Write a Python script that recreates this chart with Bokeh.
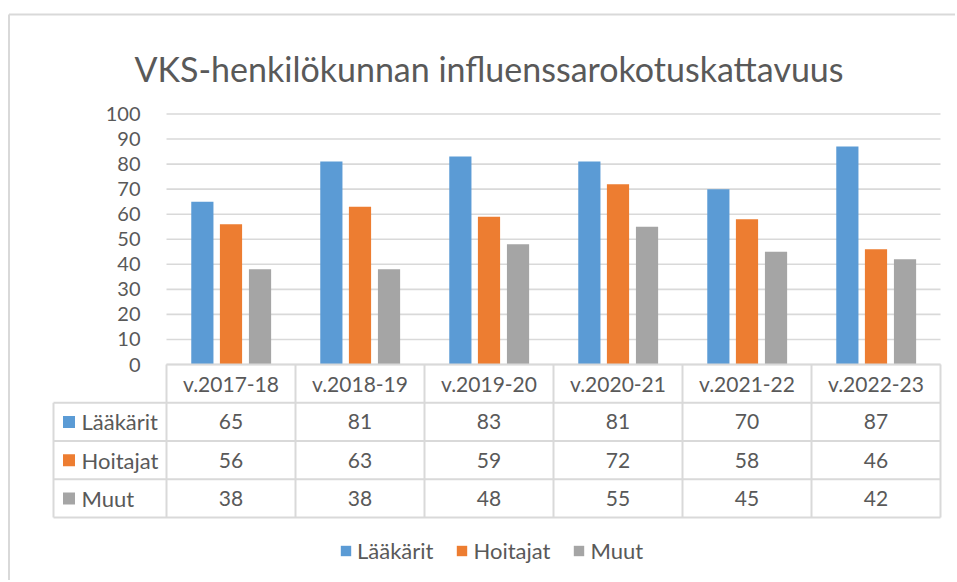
from bokeh.plotting import figure
from bokeh.models import (ColumnDataSource, Range1d, LinearAxis, FixedTicker,
                          Legend, LegendItem)
from bokeh.transform import dodge
from bokeh.core.properties import value
from bokeh.embed import file_html
from bokeh.resources import INLINE

# ---------------- data ----------------
title = "VKS-henkilökunnan influenssarokotuskattavuus"
categories = ["v.2017-18", "v.2018-19", "v.2019-20", "v.2020-21", "v.2021-22", "v.2022-23"]
series_names = ["Lääkärit", "Hoitajat", "Muut"]
laakarit = [65, 81, 83, 81, 70, 87]
hoitajat = [56, 63, 59, 72, 58, 46]
muut = [38, 38, 48, 55, 45, 42]
y_ticks = [0, 10, 20, 30, 40, 50, 60, 70, 80, 90, 100]

series_values = [laakarit, hoitajat, muut]
colors = ["#5B9BD5", "#ED7D31", "#A5A5A5"]
TEXT = "#595959"
LINE = "#D9D9D9"
FONT = value("Lato")

# ---------------- layout helpers (page pixels -> data units) ----------------
CANVAS_L, CANVAS_T, CANVAS_R, CANVAS_B = 0, 0, 955, 580
X_ORIGIN, COL_PX = 166, 129          # plot-area left edge, column width
Y_ORIGIN, UNIT_PX = 364, 2.505        # value 0 line, pixels per unit
ROW_PX = 38.25                        # table row height

def xd(px):
    return (px - X_ORIGIN) / COL_PX

def yd(py):
    return (Y_ORIGIN - py) / UNIT_PX

def rd(py):
    return (py - Y_ORIGIN) / ROW_PX

W = CANVAS_R - CANVAS_L
H = CANVAS_B - CANVAS_T

p = figure(width=W, height=H, output_backend="svg", toolbar_location=None,
           x_axis_type=None, y_axis_type=None,
           x_range=Range1d(xd(CANVAS_L), xd(CANVAS_R)),
           y_range=Range1d(yd(CANVAS_B), yd(CANVAS_T)),
           min_border=0, outline_line_color=None,
           background_fill_color="white", border_fill_color="white")
p.extra_y_ranges = {"tbl": Range1d(rd(CANVAS_B), rd(CANVAS_T))}

ncat = len(categories)
xc = [i + 0.5 for i in range(ncat)]

# chart border (top and left visible)
p.segment(x0=[xd(8.5)], y0=[yd(14)], x1=[xd(CANVAS_R)], y1=[yd(14)],
          line_color=LINE, line_width=2)
p.segment(x0=[xd(8.5)], y0=[yd(14)], x1=[xd(8.5)], y1=[yd(CANVAS_B)],
          line_color=LINE, line_width=2)

# gridlines
p.segment(x0=[0] * len(y_ticks), x1=[ncat] * len(y_ticks), y0=y_ticks, y1=y_ticks,
          line_color=LINE, line_width=1.6)

# y axis
yaxis = LinearAxis(ticker=FixedTicker(ticks=y_ticks), fixed_location=0,
                   axis_line_color=None, major_tick_line_color=None,
                   minor_tick_line_color=None, major_label_standoff=20,
                   major_label_text_font_size="20px",
                   major_label_text_color=TEXT, major_label_text_font="Lato")
p.add_layout(yaxis, "left")

# bars
src = ColumnDataSource(dict(xc=xc, cat=categories, l=laakarit, h=hoitajat, m=muut))
offsets = [-0.222, 0.0, 0.225]
renderers = []
for col, off, c in zip(["l", "h", "m"], offsets, colors):
    r = p.vbar(x=dodge("xc", off), top=col, width=0.172, bottom=0, source=src,
               fill_color=c, line_color=None)
    renderers.append(r)

# data table grid
nrows = len(series_names)
left_edge = xd(53)
hx0, hx1, hy = [], [], []
for r in range(nrows + 2):
    hx0.append(0 if r == 0 else left_edge)
    hx1.append(ncat)
    hy.append(r)
p.segment(x0=hx0, x1=hx1, y0=hy, y1=hy, y_range_name="tbl",
          line_color=LINE, line_width=2)
vx = [left_edge] + list(range(ncat + 1))
vy0 = [1] + [0] * (ncat + 1)
vy1 = [nrows + 1] * (ncat + 2)
p.segment(x0=vx, x1=vx, y0=vy0, y1=vy1, y_range_name="tbl",
          line_color=LINE, line_width=2)

# header labels
p.text(x=xc, y=[0.5] * ncat, text=categories, y_range_name="tbl",
       text_align="center", text_baseline="middle", text_font=FONT,
       text_font_size="21px", text_color=TEXT)

# table values and row labels
for i, (name, vals, c) in enumerate(zip(series_names, series_values, colors)):
    row = i + 1.5
    p.text(x=xc, y=[row] * ncat, text=[str(v) for v in vals], y_range_name="tbl",
           text_align="center", text_baseline="middle", text_font=FONT,
           text_font_size="21px", text_color=TEXT)
    p.rect(x=[xd(68.5)], y=[row], width=12, height=12, width_units="screen",
           height_units="screen", y_range_name="tbl", fill_color=c, line_color=None)
    p.text(x=[xd(81)], y=[row], text=[name], y_range_name="tbl",
           text_align="left", text_baseline="middle", text_font=FONT,
           text_font_size="22px", text_color=TEXT)

# title
p.text(x=[xd(488.5)], y=[yd(67.5)], text=[title], text_align="center",
       text_baseline="alphabetic", text_font=FONT, text_font_size="34px",
       text_color=TEXT)

# legend
legend = Legend(items=[LegendItem(label=n, renderers=[r]) for n, r in zip(series_names, renderers)],
                orientation="horizontal", location=(339 - CANVAS_L, CANVAS_B - 564),
                glyph_width=13, glyph_height=13, label_standoff=5, spacing=22,
                padding=0, margin=0, border_line_color=None,
                background_fill_alpha=0, label_text_font="Lato",
                label_text_font_size="22px", label_text_color=TEXT,
                label_height=20)
p.add_layout(legend)

open("out.html", "w").write(file_html(p, INLINE))
